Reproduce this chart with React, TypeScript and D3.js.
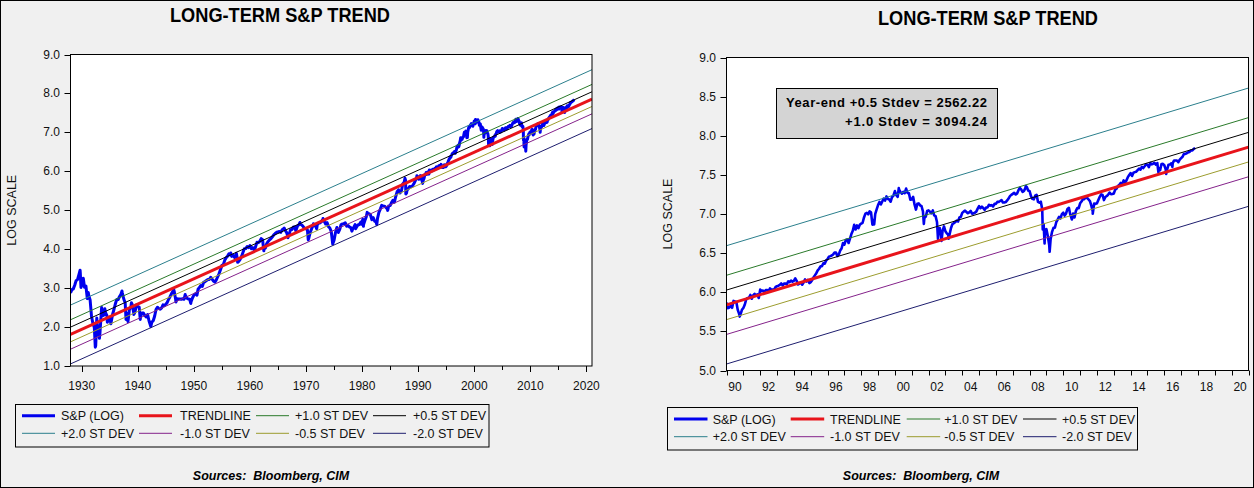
import React from 'react';
import * as d3 from 'd3';

const W = 1254;
const H = 488;

// ln(S&P) regression trendline (endpoints) and its standard deviation
const trendYears: number[] = [1928, 2021];
const trendValues: number[] = [1.809, 7.854];
const stdevSize = 0.378;
const bandMultipliers: number[] = [2.0, 1.0, 0.5, -0.5, -1.0, -2.0];
const bandLabels: string[] = ['+2.0 ST DEV', '+1.0 ST DEV', '+0.5 ST DEV', '-0.5 ST DEV', '-1.0 ST DEV', '-2.0 ST DEV'];
const bandColors: string[] = ['#2b7f8c', '#2a7a2a', '#000000', '#9c9c2e', '#84228a', '#1e1e6e'];

const spColor = '#0000ee';
const trendColor = '#e8141b';

// S&P composite level, [year fraction, level] before 1990
const spEarly: [number, number][] = [
  [1928.0, 17.7], [1928.25, 19.3], [1928.5, 19.7], [1928.75, 21.6], [1929.0, 24.35],
  [1929.25, 25.0], [1929.5, 28.4], [1929.71, 31.86], [1929.75, 29.6], [1929.83, 23.0], [1929.87, 20.43], [1930.0, 21.45],
  [1930.25, 25.1], [1930.28, 25.92], [1930.5, 20.5], [1930.75, 21.2], [1931.0, 15.34],
  [1931.17, 18.0], [1931.25, 16.6], [1931.5, 14.8], [1931.75, 9.7], [1932.0, 8.12],
  [1932.25, 7.3], [1932.42, 4.4], [1932.5, 4.6], [1932.69, 9.31], [1932.75, 8.1], [1933.0, 6.89],
  [1933.16, 5.53], [1933.25, 6.3], [1933.5, 10.9], [1933.55, 12.2], [1933.75, 9.9], [1934.0, 10.1],
  [1934.12, 11.8], [1934.25, 10.7], [1934.5, 9.9], [1934.57, 8.36], [1934.75, 9.1], [1935.0, 9.5],
  [1935.2, 8.06], [1935.5, 10.2], [1935.75, 11.6], [1936.0, 13.43],
  [1936.25, 15.0], [1936.5, 15.0], [1936.75, 16.2], [1937.0, 17.18],
  [1937.18, 18.68], [1937.25, 17.7], [1937.5, 15.2], [1937.75, 13.8], [1937.9, 9.0], [1938.0, 10.55],
  [1938.25, 8.5], [1938.5, 11.6], [1938.75, 12.2], [1938.87, 13.8], [1939.0, 13.21],
  [1939.25, 10.9], [1939.3, 10.2], [1939.5, 10.9], [1939.75, 13.0], [1940.0, 12.49],
  [1940.25, 12.3], [1940.44, 8.99], [1940.5, 9.7], [1940.75, 10.6], [1941.0, 10.58],
  [1941.25, 9.95], [1941.5, 9.6], [1941.75, 10.2], [1942.0, 8.69],
  [1942.32, 7.47], [1942.5, 8.4], [1942.75, 8.7], [1943.0, 9.77],
  [1943.25, 11.6], [1943.5, 12.3], [1943.75, 11.9], [1944.0, 11.67],
  [1944.25, 12.1], [1944.5, 13.1], [1944.75, 12.8], [1945.0, 13.28],
  [1945.25, 13.9], [1945.5, 15.1], [1945.75, 16.1], [1946.0, 17.36],
  [1946.41, 19.25], [1946.5, 18.4], [1946.75, 15.1], [1946.8, 14.1], [1947.0, 15.3],
  [1947.25, 15.2], [1947.5, 15.2], [1947.75, 15.1], [1948.0, 15.3],
  [1948.25, 15.1], [1948.45, 17.06], [1948.5, 16.7], [1948.75, 15.5], [1949.0, 15.2],
  [1949.25, 15.1], [1949.45, 13.55], [1949.5, 14.2], [1949.75, 15.6], [1950.0, 16.76],
  [1950.25, 17.3], [1950.5, 17.7], [1950.55, 16.7], [1950.75, 19.5], [1951.0, 20.41],
  [1951.25, 21.5], [1951.5, 21.0], [1951.75, 23.3], [1952.0, 23.77],
  [1952.25, 24.4], [1952.5, 25.0], [1952.75, 25.0], [1953.0, 26.57],
  [1953.25, 25.3], [1953.5, 24.1], [1953.75, 23.4], [1954.0, 24.81],
  [1954.25, 26.9], [1954.5, 29.2], [1954.75, 32.3], [1955.0, 35.98],
  [1955.25, 36.6], [1955.5, 41.0], [1955.75, 43.7], [1956.0, 45.48],
  [1956.25, 48.5], [1956.5, 46.97], [1956.58, 49.4], [1956.75, 45.4], [1957.0, 46.67],
  [1957.25, 44.1], [1957.5, 47.4], [1957.58, 49.1], [1957.75, 42.4], [1957.81, 38.98], [1958.0, 39.99],
  [1958.25, 42.1], [1958.5, 45.2], [1958.75, 50.0], [1959.0, 55.21],
  [1959.25, 55.4], [1959.5, 58.5], [1959.75, 56.9], [1960.0, 59.89],
  [1960.25, 55.3], [1960.5, 56.9], [1960.75, 53.5], [1960.82, 53.4], [1961.0, 58.11],
  [1961.25, 65.1], [1961.5, 64.6], [1961.75, 66.7], [1962.0, 71.55],
  [1962.25, 69.6], [1962.48, 52.32], [1962.5, 54.8], [1962.75, 56.3], [1963.0, 63.1],
  [1963.25, 66.6], [1963.5, 69.4], [1963.75, 71.7], [1964.0, 75.02],
  [1964.25, 78.98], [1964.5, 81.7], [1964.75, 84.2], [1965.0, 84.75],
  [1965.25, 86.2], [1965.5, 84.1], [1965.75, 89.96], [1966.0, 92.43],
  [1966.11, 94.06], [1966.25, 89.2], [1966.5, 84.7], [1966.75, 76.6], [1966.77, 73.2], [1967.0, 80.33],
  [1967.25, 90.2], [1967.5, 90.6], [1967.75, 96.7], [1968.0, 96.47],
  [1968.18, 87.7], [1968.25, 90.2], [1968.5, 99.6], [1968.75, 102.7], [1968.91, 108.4], [1969.0, 103.86],
  [1969.25, 101.5], [1969.5, 97.7], [1969.75, 93.1], [1970.0, 92.06],
  [1970.25, 89.6], [1970.4, 69.29], [1970.5, 72.7], [1970.75, 84.2], [1971.0, 92.15],
  [1971.25, 100.3], [1971.32, 104.8], [1971.5, 99.7], [1971.75, 98.3], [1971.9, 92.0], [1972.0, 102.09],
  [1972.25, 107.2], [1972.5, 107.1], [1972.75, 110.6], [1973.0, 118.05],
  [1973.03, 120.2], [1973.25, 111.5], [1973.5, 104.3], [1973.75, 108.4], [1974.0, 97.55],
  [1974.25, 93.98], [1974.5, 86.0], [1974.75, 63.5], [1974.76, 62.28], [1975.0, 68.56],
  [1975.25, 83.4], [1975.5, 95.2], [1975.75, 83.9], [1976.0, 90.19],
  [1976.25, 102.8], [1976.5, 104.3], [1976.75, 105.2], [1977.0, 107.46],
  [1977.25, 98.4], [1977.5, 100.5], [1977.75, 96.5], [1978.0, 95.1],
  [1978.18, 86.9], [1978.25, 89.2], [1978.5, 95.5], [1978.75, 102.5], [1978.87, 92.5], [1979.0, 96.11],
  [1979.25, 101.6], [1979.5, 102.9], [1979.75, 109.3], [1979.87, 103.5], [1980.0, 107.94],
  [1980.12, 118.0], [1980.24, 98.2], [1980.25, 102.1], [1980.5, 114.2], [1980.75, 125.5], [1980.91, 140.5], [1981.0, 135.76],
  [1981.25, 136.0], [1981.5, 131.2], [1981.75, 116.2], [1982.0, 122.55],
  [1982.25, 111.96], [1982.5, 109.6], [1982.62, 102.4], [1982.75, 120.4], [1983.0, 140.64],
  [1983.25, 152.96], [1983.5, 168.1], [1983.75, 166.1], [1984.0, 164.93],
  [1984.25, 159.2], [1984.5, 153.2], [1984.56, 147.8], [1984.75, 166.1], [1985.0, 167.24],
  [1985.25, 180.7], [1985.5, 191.9], [1985.75, 182.1], [1986.0, 211.28],
  [1986.25, 238.9], [1986.5, 250.8], [1986.75, 231.3], [1987.0, 242.17],
  [1987.25, 291.7], [1987.5, 304.0], [1987.65, 336.8], [1987.75, 321.8], [1987.8, 224.8], [1987.83, 251.8], [1987.92, 230.3], [1988.0, 247.08],
  [1988.25, 258.9], [1988.5, 273.5], [1988.75, 271.9], [1989.0, 277.72],
  [1989.25, 294.9], [1989.5, 317.98], [1989.75, 349.2], [1989.77, 359.8], [1989.83, 340.4], [1990.0, 353.4],
];

// Monthly closes, Jan 1990 onwards
const spMonthly1990s: number[] = [
  329.1, 331.9, 339.9, 330.8, 361.2, 358.0, 356.2, 322.6, 306.1, 304.0, 322.2, 330.2,
  343.9, 367.1, 375.2, 375.3, 389.8, 371.2, 387.8, 395.4, 387.9, 392.5, 375.2, 417.1,
  408.8, 412.7, 403.7, 414.9, 415.4, 408.1, 424.2, 414.0, 417.8, 418.7, 431.4, 435.7,
  438.8, 443.4, 451.7, 440.2, 450.2, 450.5, 448.1, 464.0, 458.9, 467.8, 461.8, 466.5,
  481.6, 467.1, 445.8, 450.9, 456.5, 444.3, 458.3, 475.5, 462.7, 472.4, 453.7, 459.3,
  470.4, 487.4, 500.7, 514.7, 533.4, 544.8, 562.1, 561.9, 584.4, 581.5, 605.4, 615.9,
  636.0, 640.4, 645.5, 654.2, 669.1, 670.6, 639.9, 652.0, 687.3, 705.3, 757.0, 740.7,
  786.2, 790.8, 757.1, 801.3, 848.3, 885.1, 954.3, 899.5, 947.3, 914.6, 955.4, 970.4,
  980.3, 1049.3, 1101.8, 1111.8, 1090.8, 1133.8, 1120.7, 957.3, 1017.0, 1098.7, 1163.6, 1229.2,
  1279.6, 1238.3, 1286.4, 1335.2, 1301.8, 1372.7, 1328.7, 1320.4, 1282.7, 1362.9, 1388.9, 1469.3,
];
const spMonthly2000s: number[] = [
  1394.5, 1366.4, 1498.6, 1452.4, 1420.6, 1454.6, 1430.8, 1517.7, 1436.5, 1429.4, 1315.2, 1320.3,
  1366.0, 1239.9, 1160.3, 1249.5, 1255.8, 1224.4, 1211.2, 1133.6, 1040.9, 1059.8, 1139.5, 1148.1,
  1130.2, 1106.7, 1147.4, 1076.9, 1067.1, 989.8, 911.6, 916.1, 815.3, 885.8, 936.3, 879.8,
  855.7, 841.2, 848.2, 916.9, 963.6, 974.5, 990.3, 1008.0, 996.0, 1050.7, 1058.2, 1111.9,
  1131.1, 1144.9, 1126.2, 1107.3, 1120.7, 1140.8, 1101.7, 1104.2, 1114.6, 1130.2, 1173.8, 1211.9,
  1181.3, 1203.6, 1180.6, 1156.9, 1191.5, 1191.3, 1234.2, 1220.3, 1228.8, 1207.0, 1249.5, 1248.3,
  1280.1, 1280.7, 1294.9, 1310.6, 1270.1, 1270.2, 1276.7, 1303.8, 1335.9, 1377.9, 1400.6, 1418.3,
  1438.2, 1406.8, 1420.9, 1482.4, 1530.6, 1503.3, 1455.3, 1474.0, 1527.0, 1549.4, 1481.1, 1468.4,
  1378.6, 1330.6, 1322.7, 1385.6, 1400.4, 1280.0, 1267.4, 1282.8, 1166.4, 968.8, 896.2, 903.3,
  825.9, 735.1, 797.9, 872.8, 919.1, 919.3, 987.5, 1020.6, 1057.1, 1036.2, 1095.6, 1115.1,
];
const spMonthly2010s: number[] = [
  1073.9, 1104.5, 1169.4, 1186.7, 1089.4, 1030.7, 1101.6, 1049.3, 1141.2, 1183.3, 1180.6, 1257.6,
  1286.1, 1327.2, 1325.8, 1363.6, 1345.2, 1320.6, 1292.3, 1218.9, 1131.4, 1253.3, 1247.0, 1257.6,
  1312.4, 1365.7, 1408.5, 1397.9, 1310.3, 1362.2, 1379.3, 1406.6, 1440.7, 1412.2, 1416.2, 1426.2,
  1498.1, 1514.7, 1569.2, 1597.6, 1630.7, 1606.3, 1685.7, 1633.0, 1681.6, 1756.5, 1805.8, 1848.4,
  1782.6, 1859.5, 1872.3, 1884.0, 1923.6, 1960.2, 1930.7, 2003.4, 1972.3, 2018.1, 2067.6, 2058.9,
  1995.0, 2104.5, 2067.9, 2085.5, 2107.4, 2063.1, 2103.8, 1972.2, 1920.0, 2079.4, 2080.4, 2043.9,
  1940.2, 1932.2, 2059.7, 2065.3, 2097.0, 2098.9, 2173.6, 2171.0, 2168.3, 2126.2, 2198.8, 2238.8,
  2278.9, 2363.6, 2362.7, 2384.2, 2411.8, 2423.4, 2470.3, 2471.7, 2519.4, 2550.0,
];
// Intra-month extremes after 1990
const spExtremes: [number, number][] = [
  [1990.78, 295.5], [1998.77, 959.4], [2000.23, 1527.5], [2001.72, 965.8], [2002.56, 797.7],
  [2002.77, 776.8], [2003.19, 800.7], [2007.77, 1565.2], [2008.78, 899.2], [2008.89, 752.4],
  [2009.19, 676.5], [2010.51, 1022.6], [2011.75, 1099.2], [2015.65, 1867.6], [2016.11, 1829.1],
  [2016.48, 2000.5],
];

const monthly = (startYear: number, vals: number[]): [number, number][] =>
  vals.map((v, i) => [startYear + (i + 1) / 12, v] as [number, number]);

const spSeries: [number, number][] = [
  ...spEarly,
  ...monthly(1990, spMonthly1990s),
  ...monthly(2000, spMonthly2000s),
  ...monthly(2010, spMonthly2010s),
  ...spExtremes,
].sort((a, b) => a[0] - b[0]);

// Axis ticks
const leftYTicks: number[] = [1, 2, 3, 4, 5, 6, 7, 8, 9];
const rightYTicks: number[] = [5.0, 5.5, 6.0, 6.5, 7.0, 7.5, 8.0, 8.5, 9.0];
const leftXMajor: number[] = [1930, 1940, 1950, 1960, 1970, 1980, 1990, 2000, 2010, 2020];
const leftXMinor: number[] = [1935, 1945, 1955, 1965, 1975, 1985, 1995, 2005, 2015];
const rightXTickYears: number[] = d3.range(1990, 2022);
const rightXLabelYears: number[] = [1990, 1992, 1994, 1996, 1998, 2000, 2002, 2004, 2006, 2008, 2010, 2012, 2014, 2016, 2018, 2020];

const legendEntries: { label: string; color: string; width: number }[] = [
  { label: 'S&P (LOG)', color: spColor, width: 3 },
  { label: 'TRENDLINE', color: trendColor, width: 3 },
  { label: bandLabels[1], color: bandColors[1], width: 1 },
  { label: bandLabels[2], color: bandColors[2], width: 1 },
  { label: bandLabels[0], color: bandColors[0], width: 1 },
  { label: bandLabels[4], color: bandColors[4], width: 1 },
  { label: bandLabels[3], color: bandColors[3], width: 1 },
  { label: bandLabels[5], color: bandColors[5], width: 1 },
];

const FONT = '"Liberation Sans", Arial, Helvetica, sans-serif';

type Cfg = {
  id: string;
  left: number; top: number; right: number; bottom: number;
  xDomain: [number, number]; yDomain: [number, number];
  yTicks: number[];
  titleX: number; titleY: number;
  yLabelX: number;
  legendBox: [number, number, number, number];
  legendRows: [number, number];
  lineX: number[]; textX: number[]; lineLen: number;
  sourcesX: number;
  spWidth: number;
  years: boolean;
};

const leftCfg: Cfg = {
  id: 'L', left: 70.5, top: 54.5, right: 592, bottom: 366,
  xDomain: [1928, 2021], yDomain: [1, 9], yTicks: leftYTicks,
  titleX: 280, titleY: 22, yLabelX: 12,
  legendBox: [15.5, 404.5, 473.5, 42.5], legendRows: [415.7, 433.3],
  lineX: [22, 139, 256, 373], textX: [61, 180, 295, 413], lineLen: 33,
  sourcesX: 271, spWidth: 3, years: false,
};
const rightCfg: Cfg = {
  id: 'R', left: 726.5, top: 57.5, right: 1248.5, bottom: 370.5,
  xDomain: [1990, 2021], yDomain: [5, 9], yTicks: rightYTicks,
  titleX: 988, titleY: 25, yLabelX: 668,
  legendBox: [667.5, 407.5, 470, 42.5], legendRows: [419, 436.7],
  lineX: [674, 790.7, 906.7, 1023], textX: [712.7, 830, 944.3, 1062], lineLen: 33.5,
  sourcesX: 921, spWidth: 2.6, years: true,
};

function Panel({ cfg }: { cfg: Cfg }) {
  const x = d3.scaleLinear().domain(cfg.xDomain).range([cfg.left, cfg.right]);
  const y = d3.scaleLinear().domain(cfg.yDomain).range([cfg.bottom, cfg.top]);
  const spLine = d3.line<[number, number]>()
    .x((d) => x(d[0]))
    .y((d) => y(Math.log(d[1])));
  const trendLine = d3.line<number>()
    .x((_, i) => x(trendYears[i]))
    .y((d) => y(d));
  const spData = spSeries.filter((d) => d[0] >= cfg.xDomain[0] - 0.01);
  const clip = `clip-${cfg.id}`;
  const fmt = d3.format('.1f');
  const midY = (cfg.top + cfg.bottom) / 2;

  return (
    <g>
      <defs>
        <clipPath id={clip}>
          <rect x={cfg.left} y={cfg.top} width={cfg.right - cfg.left} height={cfg.bottom - cfg.top} />
        </clipPath>
      </defs>
      <text x={cfg.titleX} y={cfg.titleY} textAnchor="middle" fontFamily={FONT} fontWeight="bold"
        fontSize={21} textLength={220} lengthAdjust="spacingAndGlyphs">LONG-TERM S&amp;P TREND</text>
      <rect x={cfg.left} y={cfg.top} width={cfg.right - cfg.left} height={cfg.bottom - cfg.top} fill="#ffffff" />
      <g clipPath={`url(#${clip})`}>
        <path d={spLine(spData) || ''} fill="none" stroke={spColor} strokeWidth={cfg.spWidth} strokeLinejoin="round" />
        <path d={trendLine(trendValues) || ''} fill="none" stroke={trendColor} strokeWidth={3} />
        {bandMultipliers.map((k, i) => (
          <path key={i} d={trendLine(trendValues.map((v) => v + k * stdevSize)) || ''} fill="none"
            stroke={bandColors[i]} strokeWidth={1} />
        ))}
      </g>
      <rect x={cfg.left} y={cfg.top} width={cfg.right - cfg.left} height={cfg.bottom - cfg.top} fill="none" stroke="#000" strokeWidth={1} />
      {cfg.yTicks.map((t) => (
        <g key={t}>
          <line x1={cfg.left - 6} x2={cfg.left} y1={Math.round(y(t)) + 0.5} y2={Math.round(y(t)) + 0.5} stroke="#000" />
          <text x={cfg.left - 10.5} y={y(t) + 4} textAnchor="end" fontFamily={FONT} fontSize={12} fill="#111">{fmt(t)}</text>
        </g>
      ))}
      <text transform={`translate(${cfg.yLabelX},${midY}) rotate(-90)`} textAnchor="middle" dominantBaseline="central"
        fontFamily={FONT} fontSize={12.5} fill="#111">LOG SCALE</text>
      {!cfg.years && leftXMajor.map((t) => (
        <g key={t}>
          <line x1={Math.round(x(t)) + 0.5} x2={Math.round(x(t)) + 0.5} y1={cfg.bottom} y2={cfg.bottom + 6} stroke="#000" />
          <text x={x(t)} y={cfg.bottom + 24} textAnchor="middle" fontFamily={FONT} fontSize={12} fill="#111">{t}</text>
        </g>
      ))}
      {!cfg.years && leftXMinor.map((t) => (
        <line key={t} x1={Math.round(x(t)) + 0.5} x2={Math.round(x(t)) + 0.5} y1={cfg.bottom} y2={cfg.bottom + 4} stroke="#000" />
      ))}
      {cfg.years && rightXTickYears.map((t) => (
        <line key={t} x1={Math.round(x(t)) + 0.5} x2={Math.round(x(t)) + 0.5} y1={cfg.bottom} y2={cfg.bottom + 5} stroke="#000" />
      ))}
      {cfg.years && rightXLabelYears.map((t) => (
        <text key={t} x={x(t + 0.5)} y={cfg.bottom + 20} textAnchor="middle" fontFamily={FONT} fontSize={12} fill="#111">
          {String(t % 100).padStart(2, '0')}
        </text>
      ))}
      <rect x={cfg.legendBox[0]} y={cfg.legendBox[1]} width={cfg.legendBox[2]} height={cfg.legendBox[3]} fill="none" stroke="#000" />
      {legendEntries.map((e, i) => {
        const row = Math.floor(i / 4);
        const col = i % 4;
        const ly = cfg.legendRows[row];
        return (
          <g key={e.label}>
            <line x1={cfg.lineX[col]} x2={cfg.lineX[col] + cfg.lineLen} y1={ly} y2={ly} stroke={e.color} strokeWidth={e.width} />
            <text x={cfg.textX[col]} y={ly + 4.5} fontFamily={FONT} fontSize={12.5} fill="#111">{e.label}</text>
          </g>
        );
      })}
      <text x={cfg.sourcesX} y={480} textAnchor="middle" fontFamily={FONT} fontSize={12.5} fontWeight="bold" fontStyle="italic"
        fill="#000" style={{ whiteSpace: 'pre' }}>{'Sources:  Bloomberg, CIM'}</text>
    </g>
  );
}

export default function App() {
  return (
    <div style={{ position: 'absolute', left: 0, top: 0 }}>
      <svg width={W} height={H} style={{ display: 'block' }}>
        <rect x={0.5} y={0.5} width={W - 1} height={H - 1} fill="#f0f0f0" stroke="#000" />
        <Panel cfg={leftCfg} />
        <Panel cfg={rightCfg} />
        <rect x={776.5} y={88.5} width={221} height={50} fill="#d4d4d4" stroke="#000" />
        <text x={786} y={107} fontFamily={FONT} fontSize={13} fontWeight="bold" textLength={201}
          lengthAdjust="spacing">Year-end +0.5 Stdev = 2562.22</text>
        <text x={845} y={126} fontFamily={FONT} fontSize={13} fontWeight="bold" textLength={142}
          lengthAdjust="spacing">+1.0 Stdev = 3094.24</text>
      </svg>
    </div>
  );
}
